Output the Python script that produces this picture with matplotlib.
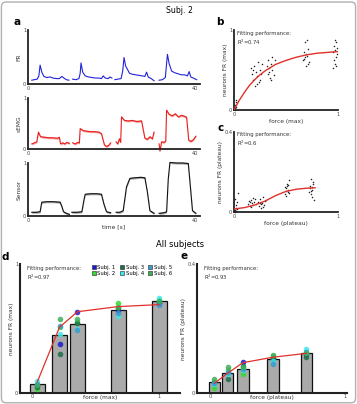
import matplotlib

matplotlib.use('Agg')
import matplotlib.pyplot as plt
from matplotlib.patches import FancyBboxPatch

plt.rcParams['font.family'] = ['DejaVu Sans']

# ---- panel a: traces of subject 2 (four trials) ----
fr_t = [[0.9, 1.5, 2.2, 2.6, 2.9, 3.3, 3.8, 4.5, 5.3, 6.0, 6.8, 7.5, 8.1, 8.6, 9.2, 9.8],
        [10.7, 11.5, 12.2, 12.5, 12.7, 13.1, 13.7, 14.5, 15.3, 16.2, 17.0, 17.6, 18.0, 18.5, 19.2, 19.6, 20.1],
        [20.8, 21.5, 22.3, 22.7, 23.0, 23.4, 23.9, 24.3, 25.0, 25.8, 26.6, 27.4, 28.0, 28.4, 28.8, 29.5, 30.2],
        [31.4, 32.2, 32.9, 33.4, 33.8, 34.4, 35.1, 35.9, 36.7, 37.5, 38.2, 38.6, 39.0, 39.6, 40.4]]
fr_v = [[0.07, 0.08, 0.09, 0.15, 0.35, 0.22, 0.14, 0.12, 0.13, 0.11, 0.10, 0.10, 0.14, 0.11, 0.08, 0.07],
        [0.09, 0.08, 0.10, 0.20, 0.39, 0.22, 0.15, 0.13, 0.12, 0.11, 0.11, 0.10, 0.15, 0.11, 0.10, 0.13, 0.11],
        [0.08, 0.09, 0.10, 0.25, 0.49, 0.33, 0.26, 0.20, 0.18, 0.17, 0.16, 0.15, 0.14, 0.22, 0.13, 0.10, 0.06],
        [0.07, 0.08, 0.12, 0.55, 0.38, 0.24, 0.21, 0.19, 0.17, 0.17, 0.15, 0.23, 0.13, 0.11, 0.08]]

emg_t = [[0.9, 1.5, 2.1, 2.5, 3.0, 4.0, 5.0, 6.0, 7.0, 7.5, 7.8, 8.3, 8.8, 9.3, 9.9],
         [10.7, 11.3, 11.9, 12.3, 12.5, 13.2, 14.0, 15.0, 16.0, 17.0, 17.6, 18.3, 18.8, 19.3, 19.8],
         [21.1, 21.5, 21.9, 22.2, 22.4, 23.1, 24.0, 25.0, 26.0, 27.2, 28.0, 28.6, 29.2, 29.8, 30.2],
         [31.4, 31.6, 32.0, 32.6, 33.0, 33.2, 33.8, 34.5, 35.3, 36.0, 36.8, 37.5, 38.0, 38.5, 39.0, 39.6, 40.2]]
emg_v = [[0.10, 0.12, 0.14, 0.33, 0.24, 0.23, 0.22, 0.22, 0.21, 0.23, 0.10, 0.12, 0.10, 0.13, 0.11],
         [0.12, 0.10, 0.13, 0.12, 0.40, 0.36, 0.35, 0.34, 0.34, 0.33, 0.30, 0.08, 0.05, 0.07, 0.12],
         [0.14, 0.10, 0.20, 0.13, 0.63, 0.56, 0.55, 0.56, 0.54, 0.55, 0.21, 0.19, 0.24, 0.20, 0.33],
         [0.10, -0.04, 0.14, 0.13, 0.16, 0.76, 0.68, 0.65, 0.69, 0.63, 0.66, 0.64, 0.62, 0.17, 0.15, 0.18, 0.25]]

sen_t = [[0.9, 2.0, 2.9, 3.3, 4.5, 6.0, 7.7, 8.1, 8.5, 9.2, 9.9],
         [10.5, 11.8, 12.9, 13.4, 13.7, 15.0, 16.5, 17.6, 18.2, 18.8, 19.8],
         [21.1, 22.0, 22.8, 23.6, 24.4, 25.5, 27.0, 28.0, 28.6, 29.2, 30.2],
         [31.4, 32.5, 33.2, 33.6, 34.0, 35.5, 37.0, 38.4, 38.9, 39.4, 40.2]]
sen_v = [[0.07, 0.07, 0.08, 0.26, 0.27, 0.27, 0.26, 0.18, 0.08, 0.05, 0.03],
         [0.07, 0.07, 0.08, 0.30, 0.41, 0.42, 0.42, 0.41, 0.22, 0.08, 0.06],
         [0.07, 0.07, 0.10, 0.55, 0.71, 0.72, 0.73, 0.72, 0.45, 0.10, 0.05],
         [0.05, 0.06, 0.08, 0.70, 1.01, 1.00, 1.00, 0.99, 0.55, 0.10, 0.05]]

# ---- panel b: max FR vs max force ----
b_x = [0.005, 0.008, 0.012, 0.018, 0.02, 0.01, 0.015,
       0.16, 0.17, 0.18, 0.19, 0.2, 0.21, 0.22, 0.23, 0.24, 0.25, 0.26, 0.27, 0.18, 0.22, 0.25,
       0.32, 0.33, 0.34, 0.35, 0.36, 0.37, 0.38, 0.39, 0.36, 0.34, 0.37, 0.33,
       0.66, 0.67, 0.68, 0.69, 0.7, 0.71, 0.72, 0.68, 0.7, 0.71, 0.69, 0.67,
       0.95, 0.96, 0.97, 0.98, 0.99, 0.97, 0.96, 0.98, 0.99, 0.95, 0.97, 0.98]
b_y = [0.0, 0.03, 0.06, 0.1, 0.13, 0.02, 0.04,
       0.52, 0.45, 0.38, 0.55, 0.3, 0.48, 0.42, 0.6, 0.35, 0.5, 0.45, 0.58, 0.5, 0.32, 0.38,
       0.55, 0.62, 0.47, 0.4, 0.58, 0.5, 0.44, 0.63, 0.38, 0.52, 0.66, 0.45,
       0.62, 0.72, 0.85, 0.55, 0.68, 0.76, 0.6, 0.66, 0.88, 0.57, 0.7, 0.64,
       0.52, 0.62, 0.75, 0.85, 0.7, 0.58, 0.8, 0.66, 0.78, 0.72, 0.88, 0.55]
b_fit_x = [0, 0.05, 0.1, 0.15, 0.2, 0.25, 0.3, 0.4, 0.5, 0.6, 0.7, 0.8, 0.9, 1.0]
b_fit_y = [0.0, 0.12, 0.22, 0.31, 0.38, 0.44, 0.49, 0.57, 0.62, 0.66, 0.69, 0.71, 0.72, 0.73]

# ---- panel c: plateau FR vs plateau force ----
c_x = [0.005, 0.01, 0.015, 0.02, 0.025, 0.01, 0.04, 0.02, 0.03,
       0.13, 0.14, 0.15, 0.16, 0.17, 0.18, 0.19, 0.2, 0.16, 0.18, 0.15, 0.21,
       0.23, 0.24, 0.25, 0.26, 0.27, 0.28, 0.29, 0.3, 0.26, 0.28, 0.25, 0.31,
       0.49, 0.5, 0.51, 0.52, 0.53, 0.5, 0.51, 0.52, 0.49, 0.53, 0.5, 0.52,
       0.72, 0.73, 0.74, 0.75, 0.76, 0.77, 0.73, 0.74, 0.75, 0.76, 0.74, 0.75]
c_y = [0.0, 0.01, 0.02, 0.035, 0.05, 0.065, 0.094, 0.005, 0.015,
       0.04, 0.055, 0.03, 0.06, 0.045, 0.035, 0.05, 0.065, 0.025, 0.07, 0.05, 0.04,
       0.05, 0.03, 0.065, 0.02, 0.045, 0.075, 0.035, 0.055, 0.04, 0.025, 0.045, 0.06,
       0.09, 0.12, 0.14, 0.1, 0.16, 0.08, 0.13, 0.11, 0.125, 0.095, 0.105, 0.135,
       0.1, 0.13, 0.165, 0.11, 0.14, 0.06, 0.12, 0.09, 0.125, 0.15, 0.105, 0.075]
c_fit_x = [0, 0.1, 0.2, 0.3, 0.4, 0.5, 0.6, 0.7, 0.78]
c_fit_y = [0.015, 0.022, 0.035, 0.055, 0.082, 0.103, 0.114, 0.119, 0.121]

# ---- panels d, e: all subjects ----
subjects = ['Subj. 1', 'Subj. 2', 'Subj. 3', 'Subj. 4', 'Subj. 5', 'Subj. 6']
subj_colors = ['#1a1ad0', '#2fdc2f', '#1e6e45', '#3ee8e8', '#3a9bd0', '#3fae5a']

d_force = [0.043, 0.217, 0.358, 0.68, 1.0]
d_bar = [0.07, 0.45, 0.535, 0.643, 0.713]
d_mean = [0.088, 0.51, 0.63, 0.67, 0.685]
d_subj = [[0.06, 0.38, 0.63, 0.64, 0.70],
          [0.03, 0.51, 0.55, 0.695, 0.72],
          [0.05, 0.30, 0.54, 0.656, 0.71],
          [0.09, 0.457, 0.50, 0.60, 0.74],
          [0.07, 0.52, 0.49, 0.62, 0.685],
          [0.06, 0.576, 0.576, 0.67, 0.71]]

e_force = [0.033, 0.13, 0.244, 0.467, 0.715]
e_bar = [0.033, 0.061, 0.075, 0.104, 0.123]
e_mean = [0.030, 0.061, 0.094, 0.111, 0.123]
e_subj = [[0.03, 0.062, 0.096, 0.105, 0.12],
          [0.015, 0.07, 0.058, 0.114, 0.125],
          [0.035, 0.042, 0.085, 0.11, 0.113],
          [0.028, 0.058, 0.07, 0.10, 0.136],
          [0.032, 0.065, 0.075, 0.09, 0.128],
          [0.042, 0.08, 0.082, 0.117, 0.123]]

W, H = 357, 404
TICK_FS = 3.6
LAB_FS = 4.2


def ax_at(left, top, right, bottom):
    """Axes from pixel box of the reference."""
    return fig.add_axes([left / W, 1 - bottom / H, (right - left) / W, (bottom - top) / H])


def style(ax, lw=1.3):
    for s in ['top', 'right']:
        ax.spines[s].set_visible(False)
    for s in ['left', 'bottom']:
        ax.spines[s].set_linewidth(lw)
        ax.spines[s].set_color('#222222')
    ax.tick_params(length=0, pad=1.2, labelsize=TICK_FS, colors='#444444')
    ax.patch.set_alpha(0)


fig = plt.figure(figsize=(W / 100, H / 100), dpi=100)
fig.patches.append(FancyBboxPatch((0.004, 0.003), 0.992, 0.992, boxstyle='round,pad=0,rounding_size=0.012',
                                  transform=fig.transFigure, fill=False, ec='#b0b0b0', lw=1.0))

fig.text(0.504, 0.974, 'Subj. 2', ha='center', va='center', fontsize=5.6)
fig.text(0.504, 0.396, 'All subjects', ha='center', va='center', fontsize=6.0)
for lab, x, y in [('a', 0.048, 0.945), ('b', 0.617, 0.945), ('c', 0.617, 0.683),
                  ('d', 0.014, 0.364), ('e', 0.516, 0.366)]:
    fig.text(x, y, lab, ha='center', va='center', fontsize=7.5, fontweight='bold')

# panel a
traces = [(fr_t, fr_v, '#2323d8', None, 'FR', 30, 84),
          (emg_t, emg_v, '#e8201c', '#f6a0a0', 'sEMG', 98, 149),
          (sen_t, sen_v, '#111111', '#aaaaaa', 'Sensor', 163, 216)]
for i, (ts, vs, col, band, name, top, bot) in enumerate(traces):
    ax = ax_at(28, top, 200, bot)
    style(ax)
    for t, v in zip(ts, vs):
        if band:
            ax.fill_between(t, [a - 0.02 for a in v], [a + 0.02 for a in v], color=band, lw=0, clip_on=False)
        ax.plot(t, v, color=col, lw=0.8, clip_on=False)
    ax.set_xlim(0, 41.2)
    ax.set_ylim(0, 1)
    ax.set_xticks([0, 40])
    ax.set_yticks([0, 1])
    ax.set_ylabel(name, fontsize=LAB_FS, labelpad=1, color='#333333')
    if i == 2:
        ax.set_xlabel('time [s]', fontsize=LAB_FS, labelpad=1.5, color='#333333')

# panel b
ax = ax_at(234, 30, 338, 110)
style(ax)
ax.scatter(b_x, b_y, s=1.2, color='#222222', lw=0, zorder=2, clip_on=False)
ax.plot(b_fit_x, b_fit_y, color='#e0302a', lw=1.0, zorder=3)
ax.set_xlim(0, 1)
ax.set_ylim(0, 1)
ax.set_xticks([0, 1])
ax.set_yticks([0, 1])
ax.set_xlabel('force (max)', fontsize=LAB_FS, labelpad=1.5, color='#333333')
ax.set_ylabel('neurons FR (max)', fontsize=LAB_FS, labelpad=1, color='#333333')
ax.text(0.03, 0.99, 'Fitting performance:\nR$^2$=0.74', transform=ax.transAxes, fontsize=3.8,
        va='top', ha='left', color='#333333', linespacing=1.2)

# panel c
ax = ax_at(234, 132, 338, 212)
style(ax)
ax.scatter(c_x, c_y, s=1.2, color='#222222', lw=0, zorder=2, clip_on=False)
ax.plot(c_fit_x, c_fit_y, color='#e0302a', lw=1.0, zorder=3)
ax.set_xlim(0, 1)
ax.set_ylim(0, 0.4)
ax.set_xticks([0, 1])
ax.set_yticks([0, 0.4])
ax.set_yticklabels(['0', '0.4'])
ax.set_xlabel('force (plateau)', fontsize=LAB_FS, labelpad=1.5, color='#333333')
ax.set_ylabel('neurons FR (plateau)', fontsize=LAB_FS, labelpad=1, color='#333333')
ax.text(0.03, 1.0, 'Fitting performance:\nR$^2$=0.6', transform=ax.transAxes, fontsize=3.8,
        va='top', ha='left', color='#333333', linespacing=1.2)


def all_subjects(ax, force, bar, mean, subj, width, ylim, xlabel, ylabel, r2):
    style(ax, lw=1.5)
    ax.bar(force, bar, width=width, color='#aaaaaa', edgecolor='#111111', lw=0.9, zorder=1)
    for vals, col, name in zip(subj, subj_colors, subjects):
        ax.scatter(force, vals, s=16, color=col, alpha=0.85, lw=0, zorder=3, label=name)
    ax.plot(force, mean, color='#e0302a', lw=0.9, zorder=4)
    ax.set_ylim(0, ylim)
    ax.set_xticks([0, 1])
    ax.set_yticks([0, ylim])
    ax.set_yticklabels(['0', '%g' % ylim])
    ax.tick_params(axis='x', pad=0.8)
    ax.set_xlabel(xlabel, fontsize=LAB_FS, color='#333333')
    ax.xaxis.set_label_coords(0.5, -0.018)
    ax.set_ylabel(ylabel, fontsize=LAB_FS, labelpad=1, color='#333333')
    ax.text(0.045, 0.985, 'Fitting performance:\nR$^2$=' + r2, transform=ax.transAxes, fontsize=3.8,
            va='top', ha='left', color='#333333', linespacing=1.3)


ax_d = ax_at(20, 264, 180, 393)
all_subjects(ax_d, d_force, d_bar, d_mean, d_subj, 0.118, 1, 'force (max)', 'neurons FR (max)', '0.97')
ax_d.set_xlim(-0.094, 1.165)
handles = [plt.Line2D([], [], ls='', marker='s', ms=3.2, mfc=c, mec='#222222', mew=0.4) for c in subj_colors]
ax_d.legend(handles, subjects, ncol=3, fontsize=3.8,
            loc='upper right', bbox_to_anchor=(0.97, 1.02), frameon=False, handlelength=0.8,
            handletextpad=0.3, columnspacing=0.8, labelspacing=0.25, borderaxespad=0.2)

ax_e = ax_at(197, 264, 347, 393)
all_subjects(ax_e, e_force, e_bar, e_mean, e_subj, 0.085, 0.4, 'force (plateau)', 'neurons FR (plateau)', '0.93')
ax_e.set_xlim(-0.096, 1.015)

fig.savefig('out.png', dpi=100)
